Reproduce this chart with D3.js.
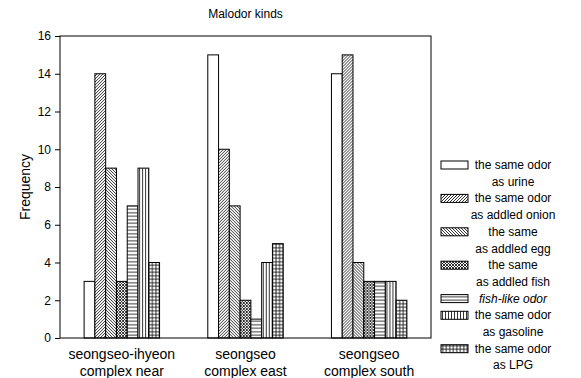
<!DOCTYPE html>
<html>
<head>
<meta charset="utf-8">
<script src="https://cdn.jsdelivr.net/npm/d3@7"></script>
<style>
  body { margin: 0; background: #fff; }
  text { font-family: "Liberation Sans", Arial, sans-serif; fill: #000; }
</style>
</head>
<body>
<div id="chart"></div>
<script>
// data
var groups = [["seongseo-ihyeon", "complex near"], ["seongseo", "complex east"], ["seongseo", "complex south"]];
var kindLabels = [
  ["the same odor", "as urine"],
  ["the same odor", "as addled onion"],
  ["the same", "as addled egg"],
  ["the same", "as addled fish"],
  ["fish-like odor"],
  ["the same odor", "as gasoline"],
  ["the same odor", "as LPG"]
];
var urine    = [3, 15, 14];
var onion    = [14, 10, 15];
var egg      = [9, 7, 4];
var fish     = [3, 2, 3];
var fishLike = [7, 1, 3];
var gasoline = [9, 4, 3];
var lpg      = [4, 5, 2];
var yTicks = [0, 2, 4, 6, 8, 10, 12, 14, 16];

var series = [urine, onion, egg, fish, fishLike, gasoline, lpg];
var patterns = ["none", "p-onion", "p-egg", "p-fish", "p-fishlike", "p-gas", "p-lpg"];

var width = 581, height = 378;
var margin = { top: 36, right: 150, bottom: 40, left: 60 };
var chartWidth = width - margin.left - margin.right;
var chartHeight = height - margin.top - margin.bottom;

var svg = d3.select("#chart").append("svg")
  .attr("width", width).attr("height", height);

// hatch patterns
var defs = svg.append("defs");
function hatch(id, size, lines) {
  var p = defs.append("pattern").attr("id", id)
    .attr("patternUnits", "userSpaceOnUse")
    .attr("width", size).attr("height", size);
  p.append("rect").attr("width", size).attr("height", size).attr("fill", "#fff");
  lines.forEach(function(l) {
    p.append("path").attr("d", l).attr("stroke", "#000").attr("stroke-width", 0.8).attr("fill", "none");
  });
}
hatch("p-onion", 3, ["M-1,1 L1,-1 M0,3 L3,0 M2,4 L4,2"]);
hatch("p-egg", 3, ["M-1,2 L1,4 M0,0 L3,3 M2,-1 L4,1"]);
hatch("p-fish", 3, ["M-1,1 L1,-1 M0,3 L3,0 M2,4 L4,2", "M-1,2 L1,4 M0,0 L3,3 M2,-1 L4,1"]);
hatch("p-fishlike", 3.5, ["M0,1.75 L3.5,1.75"]);
hatch("p-gas", 3, ["M1.5,0 L1.5,3"]);
hatch("p-lpg", 3.5, ["M0,1.75 L3.5,1.75", "M1.75,0 L1.75,3.5"]);

var chartGroup = svg.append("g")
  .attr("transform", "translate(" + margin.left + "," + margin.top + ")");

var x0 = d3.scaleBand().domain(d3.range(groups.length))
  .range([0, chartWidth]).paddingInner(0.39).paddingOuter(0.195);
var x1 = d3.scaleBand().domain(d3.range(series.length))
  .range([0, x0.bandwidth()]);
var y = d3.scaleLinear().domain([0, 16]).range([chartHeight, 0]);

// bars
groups.forEach(function(g, gi) {
  var gg = chartGroup.append("g").attr("transform", "translate(" + x0(gi) + ",0)");
  series.forEach(function(s, si) {
    gg.append("rect")
      .attr("x", x1(si))
      .attr("y", y(s[gi]))
      .attr("width", x1.bandwidth())
      .attr("height", chartHeight - y(s[gi]))
      .attr("fill", patterns[si] === "none" ? "#fff" : "url(#" + patterns[si] + ")")
      .attr("stroke", "#000").attr("stroke-width", 1);
  });
});

// frame
chartGroup.append("rect")
  .attr("width", chartWidth).attr("height", chartHeight)
  .attr("fill", "none").attr("stroke", "#000").attr("stroke-width", 1);

// y axis
var yAxis = chartGroup.append("g")
  .call(d3.axisLeft(y).tickValues(yTicks).tickSize(5).tickPadding(4));
yAxis.select(".domain").remove();
yAxis.selectAll("text").style("font-size", "12px").style("font-family", "Liberation Sans, Arial, sans-serif");

// x labels
groups.forEach(function(g, gi) {
  var t = chartGroup.append("text")
    .attr("x", x0(gi) + x0.bandwidth() / 2)
    .attr("y", chartHeight + 21)
    .attr("text-anchor", "middle")
    .style("font-size", "14px");
  t.append("tspan").attr("x", x0(gi) + x0.bandwidth() / 2).text(g[0]);
  t.append("tspan").attr("x", x0(gi) + x0.bandwidth() / 2).attr("dy", 17).text(g[1]);
});

// title
svg.append("text")
  .attr("x", margin.left + chartWidth / 2).attr("y", 18)
  .attr("text-anchor", "middle").style("font-size", "12px")
  .text("Malodor kinds");

// y label
svg.append("text")
  .attr("transform", "translate(30," + (margin.top + chartHeight / 2) + ") rotate(-90)")
  .attr("text-anchor", "middle").style("font-size", "14px")
  .text("Frequency");

// legend
var legend = svg.append("g").attr("transform", "translate(441,169)");
var lineH = 16.7;
var line = 0;
kindLabels.forEach(function(lab, i) {
  var yy = line * lineH;
  legend.append("rect")
    .attr("x", 0).attr("y", yy - 8).attr("width", 27).attr("height", 8)
    .attr("fill", patterns[i] === "none" ? "#fff" : "url(#" + patterns[i] + ")")
    .attr("stroke", "#000").attr("stroke-width", 1);
  lab.forEach(function(txt, j) {
    legend.append("text")
      .attr("x", 72).attr("y", yy + j * lineH)
      .attr("text-anchor", "middle")
      .style("font-size", "12px")
      .style("font-style", i === 4 ? "italic" : "normal")
      .text(txt);
  });
  line += lab.length;
});
</script>
</body>
</html>
